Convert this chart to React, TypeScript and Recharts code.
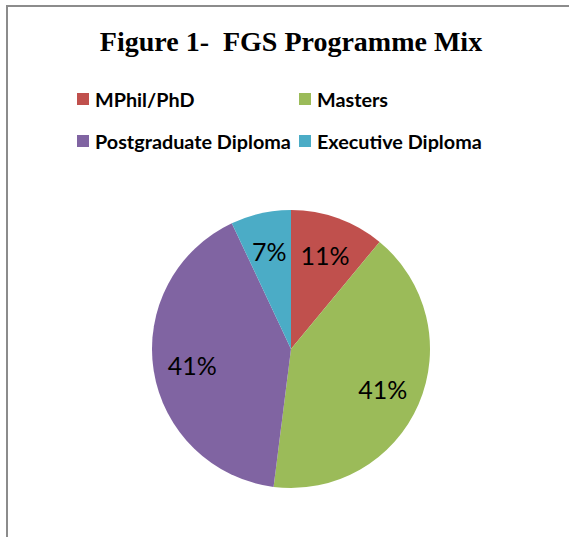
import { PieChart, Pie, Cell, Legend } from 'recharts';

const programmes = ['MPhil/PhD', 'Masters', 'Postgraduate Diploma', 'Executive Diploma'];
const shares = [11, 41, 41, 7];
const colors = ['#C0504D', '#9BBB59', '#8064A2', '#4BACC6'];

const data = programmes.map((name, i) => ({ name, value: shares[i] }));

const RADIAN = Math.PI / 180;

const renderLabel = (props: any) => {
  const { cx, cy, midAngle, outerRadius, percent } = props;
  const r = outerRadius * 0.72;
  const x = cx + r * Math.cos(-midAngle * RADIAN);
  const y = cy + r * Math.sin(-midAngle * RADIAN);
  return (
    <text
      x={x}
      y={y}
      textAnchor="middle"
      dominantBaseline="central"
      fill="#000"
      style={{ fontFamily: 'Lato, sans-serif', fontSize: 25 }}
    >
      {`${Math.round(percent * 100)}%`}
    </text>
  );
};

const renderLegend = () => (
  <div
    style={{
      display: 'grid',
      gridTemplateColumns: '222px 222px',
      fontFamily: 'Lato, sans-serif',
      fontWeight: 700,
      fontSize: 19.8,
      color: '#000',
    }}
  >
    {programmes.map((name, i) => (
      <div key={name} style={{ display: 'flex', alignItems: 'center', height: 42 }}>
        <span style={{ width: 12, height: 12, background: colors[i], marginRight: 6, flex: 'none' }} />
        <span style={{ whiteSpace: 'nowrap' }}>{name}</span>
      </div>
    ))}
  </div>
);

export default function App() {
  return (
    <div
      style={{
        position: 'absolute',
        left: 0,
        top: 0,
        width: 569,
        height: 537,
        background: '#fff',
        overflow: 'hidden',
      }}
    >
      <div
        style={{
          position: 'absolute',
          left: 6,
          top: 5,
          width: 600,
          height: 600,
          borderLeft: '2px solid #8c8c8c',
          borderTop: '2px solid #8c8c8c',
        }}
      />
      <div
        style={{
          position: 'absolute',
          left: 0,
          top: 28,
          width: 582,
          textAlign: 'center',
          fontFamily: '"Liberation Serif", serif',
          fontWeight: 700,
          fontSize: 28,
          lineHeight: '28px',
          whiteSpace: 'pre',
          color: '#000',
        }}
      >
        {'Figure 1-  FGS Programme Mix'}
      </div>
      <div style={{ position: 'absolute', left: 0, top: 0 }}>
        <PieChart width={569} height={537} margin={{ top: 0, right: 0, bottom: 0, left: 0 }}>
          <Legend
            content={renderLegend}
            wrapperStyle={{ left: 77, top: 78, width: 460 }}
          />
          <Pie
            data={data}
            dataKey="value"
            nameKey="name"
            cx={291}
            cy={349}
            outerRadius={139}
            startAngle={90}
            endAngle={-270}
            stroke="none"
            label={renderLabel}
            labelLine={false}
            isAnimationActive={false}
          >
            {data.map((entry, i) => (
              <Cell key={entry.name} fill={colors[i]} />
            ))}
          </Pie>
        </PieChart>
      </div>
    </div>
  );
}
